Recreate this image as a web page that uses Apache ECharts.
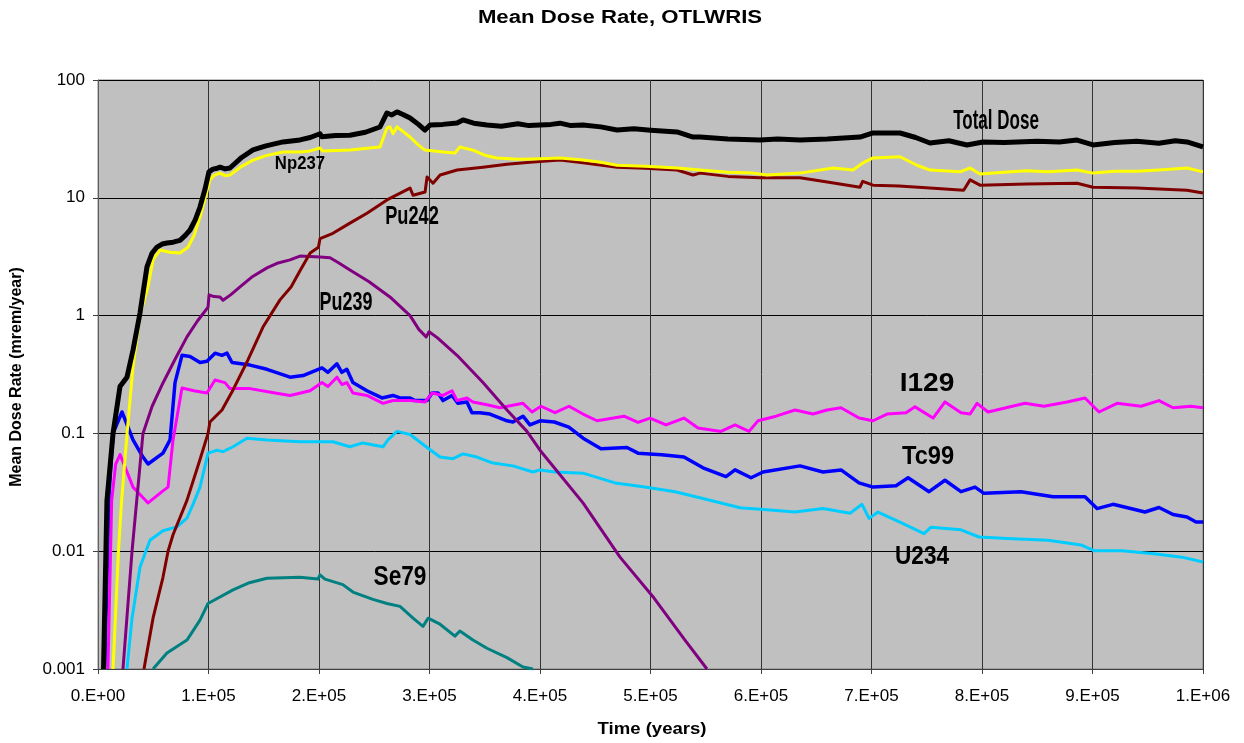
<!DOCTYPE html>
<html><head><meta charset="utf-8">
<script src="https://cdn.jsdelivr.net/npm/echarts@6/dist/echarts.min.js"></script>
<style>html,body{margin:0;padding:0;background:#fff;}#c{width:1244px;height:743px;}</style>
</head><body><div id="c"></div>
<script>
// ---- data: [year, mrem/year] ----
const totalDose = [[5000,0.001],[8100,0.027],[13600,0.1],[19900,0.25],[26200,0.3],[31700,0.51],[38000,1.05],[44300,2.59],[49000,3.4],[53400,3.82],[58000,4.05],[62400,4.13],[68000,4.2],[74200,4.35],[79000,4.8],[83300,5.33],[88000,6.5],[92300,8.35],[97000,12],[100400,16.6],[104000,17.5],[108000,17.8],[110400,18.2],[115000,17.6],[119400,17.9],[130000,22],[140300,25.5],[152000,27.6],[167400,29.8],[182800,31],[192000,32.5],[200900,35],[202500,33],[215000,33.8],[228000,34],[242000,36],[255200,39.9],[261500,52.5],[266000,50.5],[270600,53.6],[276000,51],[282400,47.6],[290000,42],[295900,37.6],[300500,41.5],[312000,42],[324900,43.2],[330300,45.8],[340000,43],[352000,41.5],[365000,40.5],[380000,42.5],[390000,41],[400000,41.5],[410000,42],[418100,43],[428000,41],[438900,41.5],[455000,40],[469700,37.6],[485000,38.5],[500000,37.5],[524000,36.2],[538500,32.8],[544800,32.8],[570000,31.5],[599100,30.9],[615000,31.6],[635300,30.9],[660000,31.5],[689600,32.8],[701400,35.5],[725800,35.5],[740000,32.5],[752900,29.2],[770000,30.5],[786400,28.1],[800900,29.8],[820000,29.5],[850000,30.2],[870000,29.8],[886000,30.9],[900500,28.1],[920000,29.5],[940000,30.2],[960000,29],[975000,30.5],[985500,29.8],[1000000,27]];
const np237 = [[13600,0.001],[18500,0.01],[21400,0.027],[26300,0.1],[31700,0.37],[38000,1.0],[45200,1.75],[49800,2.97],[56100,3.6],[65000,3.45],[74200,3.4],[81400,3.8],[87000,4.8],[92300,6.87],[97000,10],[101300,14.2],[105000,15.5],[110400,16.2],[115000,15.4],[119400,15.6],[130000,18.5],[140300,20.9],[152000,22.8],[167400,24.5],[182800,24.5],[192000,25],[200900,26.5],[203000,25],[228000,25.4],[255200,27],[261500,39.2],[264200,40],[267000,35],[270600,40],[282400,32.8],[290000,28],[295900,25.4],[312200,24.5],[323000,24],[327500,27],[339300,25.4],[350000,23],[361000,21.8],[380000,21.2],[393600,21.4],[418100,21.8],[438900,20.9],[455000,20],[469700,18.9],[495000,18.5],[524000,17.9],[544800,17.2],[570000,16.5],[592800,16.2],[605400,15.6],[635300,16.2],[665200,17.9],[683300,17.2],[692300,19.8],[701400,21.8],[725800,22.3],[741200,18.9],[752900,17.2],[780100,16.6],[789200,17.9],[798200,15.9],[820000,16.5],[840000,17],[860000,16.6],[886000,17.2],[900500,16.2],[920000,16.8],[940000,16.8],[960000,17.2],[985500,17.9],[1000000,16.6]];
const pu242 = [[41600,0.001],[49800,0.0027],[58800,0.006],[63400,0.01],[67900,0.0138],[80500,0.027],[92300,0.06],[99600,0.1],[101300,0.125],[112200,0.158],[122200,0.234],[135700,0.42],[149300,0.8],[164700,1.36],[174700,1.75],[182800,2.4],[192000,3.4],[199500,3.8],[200900,4.5],[212600,5],[228000,6.1],[243400,7.4],[261500,9.6],[282400,12.1],[285100,10.5],[296000,11.2],[297800,15],[303200,13.3],[309600,15.6],[325000,17.2],[348400,18.2],[370000,19.3],[393600,20.1],[418100,20.9],[438900,19.8],[469700,18.2],[495000,17.8],[524000,17.2],[538500,15.6],[544800,16.2],[570000,15.2],[599100,14.8],[635300,14.8],[660000,13.6],[689600,12.3],[692000,13.8],[701400,12.8],[725000,12.6],[752900,12.1],[783400,11.6],[789200,14.2],[798200,12.8],[840000,13.1],[886000,13.3],[900500,12.3],[940000,12.1],[985500,11.6],[1000000,11.0]];
const pu239 = [[22600,0.001],[30800,0.01],[40700,0.1],[49000,0.17],[58800,0.268],[70000,0.43],[80500,0.66],[90000,0.9],[99600,1.18],[100500,1.5],[105000,1.45],[110400,1.44],[113100,1.35],[120000,1.5],[128500,1.75],[140000,2.15],[152900,2.54],[163000,2.8],[173800,2.97],[182800,3.2],[200900,3.15],[210000,3.1],[218000,2.8],[228000,2.44],[245000,1.95],[264200,1.44],[282400,1.0],[290500,0.76],[297000,0.66],[299600,0.73],[307000,0.65],[324900,0.46],[348400,0.27],[370100,0.158],[388200,0.104],[400000,0.072],[438900,0.0257],[472400,0.0089],[503200,0.004],[531200,0.00176],[551100,0.001]];
const i129 = [[9000,0.001],[12400,0.027],[16000,0.055],[20000,0.066],[31700,0.035],[45300,0.0257],[58800,0.0325],[63400,0.035],[67900,0.088],[76000,0.243],[86800,0.23],[98600,0.22],[105900,0.284],[114900,0.27],[119400,0.24],[137600,0.24],[155000,0.225],[173800,0.21],[191900,0.23],[202700,0.27],[208100,0.25],[216200,0.30],[220700,0.26],[225200,0.27],[230700,0.22],[243400,0.21],[257900,0.18],[266900,0.19],[282400,0.19],[296000,0.185],[302300,0.22],[312200,0.21],[320400,0.23],[324900,0.19],[333900,0.20],[339300,0.185],[352000,0.175],[363800,0.165],[384600,0.18],[392800,0.152],[400900,0.17],[413600,0.15],[426300,0.17],[438900,0.146],[451600,0.128],[476000,0.14],[488700,0.124],[499600,0.135],[514000,0.118],[530300,0.135],[543000,0.111],[563800,0.104],[576500,0.118],[589200,0.104],[597300,0.128],[613600,0.14],[630800,0.158],[647100,0.146],[659700,0.158],[672400,0.165],[688700,0.135],[701400,0.128],[714000,0.146],[731200,0.15],[739400,0.168],[755700,0.135],[766500,0.185],[781000,0.15],[789200,0.146],[795500,0.18],[805500,0.152],[838900,0.18],[856100,0.17],[877000,0.185],[893200,0.2],[905900,0.152],[922200,0.18],[943900,0.17],[960200,0.19],[972900,0.165],[989200,0.17],[1000000,0.165]];
const tc99 = [[6000,0.001],[10000,0.03],[13600,0.1],[21700,0.152],[31700,0.088],[40700,0.063],[45300,0.055],[58800,0.068],[65200,0.088],[69700,0.27],[76000,0.46],[83300,0.45],[92300,0.40],[98600,0.41],[105900,0.48],[112200,0.46],[116700,0.48],[121300,0.40],[137600,0.38],[152900,0.35],[173800,0.30],[185600,0.31],[202700,0.36],[208100,0.33],[216200,0.39],[220700,0.33],[225200,0.35],[230700,0.27],[243400,0.23],[257000,0.2],[266900,0.21],[273300,0.2],[282400,0.2],[286900,0.19],[297800,0.19],[302300,0.22],[307700,0.22],[312200,0.19],[320400,0.21],[325800,0.18],[333900,0.185],[338400,0.15],[345600,0.15],[354700,0.146],[370100,0.128],[375500,0.125],[384600,0.14],[390900,0.118],[400000,0.128],[413000,0.125],[426100,0.113],[439000,0.091],[455200,0.074],[478700,0.076],[488700,0.068],[510000,0.066],[530300,0.063],[547500,0.051],[568300,0.043],[576500,0.049],[591000,0.042],[601800,0.047],[635300,0.053],[656100,0.047],[672400,0.049],[688700,0.038],[701400,0.035],[722200,0.036],[733100,0.042],[752100,0.032],[766500,0.040],[781000,0.032],[793700,0.035],[801800,0.031],[835300,0.032],[864300,0.029],[893200,0.029],[904100,0.023],[918600,0.025],[947500,0.0215],[960200,0.0235],[972900,0.0205],[985500,0.0195],[993700,0.0177],[1000000,0.0177]];
const u234 = [[26200,0.001],[30800,0.0027],[38000,0.0073],[47000,0.0124],[58800,0.0149],[71500,0.0161],[80500,0.0191],[86000,0.025],[92300,0.035],[99600,0.068],[107700,0.072],[113100,0.070],[122200,0.077],[134800,0.091],[152900,0.088],[182800,0.085],[200900,0.085],[212600,0.085],[227900,0.077],[239700,0.083],[257900,0.077],[262400,0.088],[270600,0.104],[282400,0.098],[297800,0.076],[309500,0.063],[321300,0.061],[330300,0.067],[342900,0.063],[357400,0.056],[375500,0.053],[393600,0.047],[400000,0.049],[413600,0.047],[438900,0.046],[467900,0.038],[495000,0.035],[522200,0.032],[547500,0.028],[581000,0.0234],[605400,0.0225],[630800,0.0215],[656100,0.023],[680600,0.021],[691400,0.025],[697800,0.019],[705900,0.0215],[726700,0.0175],[747500,0.0141],[753900,0.016],[781000,0.0152],[797300,0.0132],[822600,0.0128],[859800,0.0124],[889600,0.0113],[901400,0.0101],[926700,0.0101],[955700,0.0095],[981000,0.0089],[1000000,0.0081]];
const se79 = [[49800,0.001],[62400,0.00137],[80500,0.00176],[92300,0.0026],[99600,0.0036],[104100,0.0038],[122200,0.0047],[137000,0.0054],[152900,0.0059],[182800,0.006],[199000,0.0058],[200900,0.0063],[205400,0.0058],[221600,0.0052],[230700,0.0045],[248800,0.0039],[261500,0.0036],[273300,0.0034],[285100,0.0027],[294100,0.0023],[298700,0.0027],[309500,0.0024],[323000,0.0019],[327500,0.0021],[339300,0.00176],[352000,0.0015],[370100,0.00125],[384600,0.00104],[393600,0.001]];

const xTickLabels = ['0.E+00','1.E+05','2.E+05','3.E+05','4.E+05','5.E+05','6.E+05','7.E+05','8.E+05','9.E+05','1.E+06'];
const yTickLabels = ['0.001','0.01','0.1','1','10','100'];
const titleText = 'Mean Dose Rate, OTLWRIS';
const xAxisTitle = 'Time (years)';
const yAxisTitle = 'Mean Dose Rate (mrem/year)';
const seriesNames = ['Se79','U234','Tc99','I129','Pu239','Pu242','Np237','Total Dose'];
const labelTexts = ['Total Dose','Np237','Pu242','Pu239','I129','Tc99','U234','Se79'];
// annotation anchors in data units [year, value]
const labelAnchors = [[812700,44.0],[182800,19.4],[284200,6.87],[224400,1.28],[750200,0.262],[751200,0.063],[745700,0.00893],[273300,0.00593]];

// ---- styling ----
const FONT = "'Liberation Sans', Arial, sans-serif";
const seriesData = [se79,u234,tc99,i129,pu239,pu242,np237,totalDose];
const seriesColors = ['#008080','#00CCFF','#0000FF','#FF00FF','#800080','#800000','#FFFF00','#000000'];
const seriesWidths = [3,3,3.5,3,3,3,3,5];
const labelFont = [27,18,26,26,26,26,26,27];
const labelScale = [0.63,0.93,0.70,0.69,1.08,0.91,0.87,0.84];

const chart = echarts.init(document.getElementById('c'), null, {renderer:'canvas'});
const option = {
  animation:false,
  backgroundColor:'#ffffff',
  grid:{left:98, top:80, width:1105, height:589, show:true, backgroundColor:'#C0C0C0', borderColor:'#808080', borderWidth:1},
  xAxis:{type:'value', min:0, max:1000000, interval:100000,
    axisLine:{show:true, onZero:false, lineStyle:{color:'#404040', width:1}},
    axisTick:{show:true, length:5, lineStyle:{color:'#404040'}},
    axisLabel:{fontFamily:FONT, fontSize:17, color:'#000', margin:19, formatter:(v)=>xTickLabels[Math.round(v/100000)]},
    splitLine:{show:true, lineStyle:{color:'#333333', width:1}}},
  yAxis:{type:'log', logBase:10, min:0.001, max:100,
    axisLine:{show:true, lineStyle:{color:'#606060', width:1}},
    axisTick:{show:true, length:5, lineStyle:{color:'#404040'}},
    axisLabel:{fontFamily:FONT, fontSize:17, color:'#000', margin:13, formatter:(v)=>yTickLabels[Math.round(Math.log10(v))+3]},
    splitLine:{show:true, lineStyle:{color:'#000000', width:1}}},
  series: seriesNames.map((n,i)=>({name:n, type:'line', data:seriesData[i], showSymbol:false, symbol:'none', clip:true,
    lineStyle:{color:seriesColors[i], width:seriesWidths[i], join:'round'}, itemStyle:{color:seriesColors[i]}, z:2+i}))
};
chart.setOption(option);

const graphics = [
  {type:'text', x:620, y:18, scaleX:1.23, style:{text:titleText, fontFamily:FONT, fontSize:18, fontWeight:'bold', fill:'#000', align:'center', verticalAlign:'middle'}},
  {type:'text', x:652, y:730, scaleX:1.16, style:{text:xAxisTitle, fontFamily:FONT, fontSize:16, fontWeight:'bold', fill:'#000', align:'center', verticalAlign:'middle'}},
  {type:'text', x:17, y:377, rotation:Math.PI/2, style:{text:yAxisTitle, fontFamily:FONT, fontSize:16, fontWeight:'bold', fill:'#000', align:'center', verticalAlign:'middle'}}
];
labelTexts.forEach((t,i)=>{
  const p = chart.convertToPixel({gridIndex:0}, labelAnchors[i]);
  graphics.push({type:'text', x:p[0], y:p[1], scaleX:labelScale[i], z:100,
    style:{text:t, fontFamily:FONT, fontSize:labelFont[i], fontWeight:'bold', fill:'#000', align:'center', verticalAlign:'middle'}});
});
chart.setOption({graphic:graphics});
</script></body></html>
